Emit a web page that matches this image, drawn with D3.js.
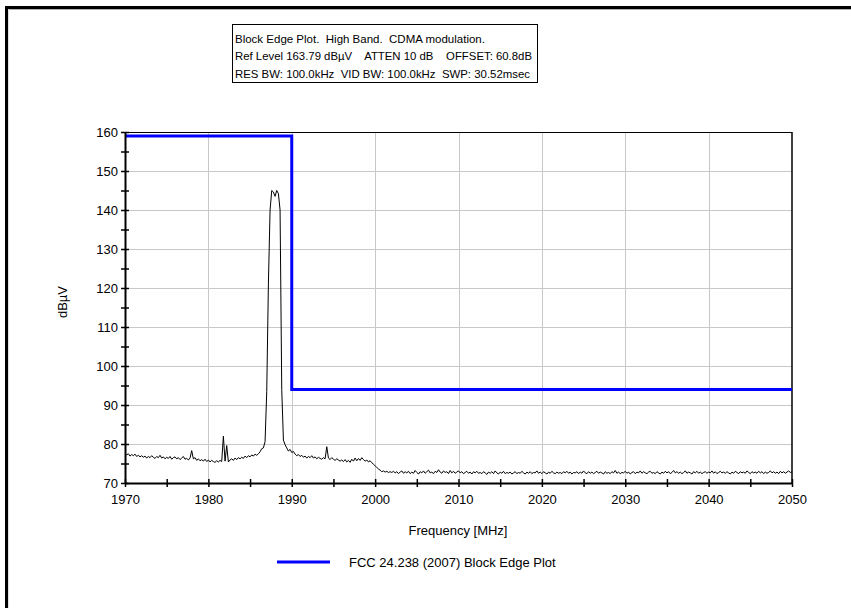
<!DOCTYPE html>
<html>
<head>
<meta charset="utf-8">
<script src="https://cdn.jsdelivr.net/npm/d3@7"></script>
<style>
  html, body { margin: 0; padding: 0; background: #fff; }
  svg { display: block; }
  text { font-family: "Liberation Sans", Arial, sans-serif; fill: #000; }
  .pre { white-space: pre; }
</style>
</head>
<body>
<svg id="chart" width="851" height="608"></svg>
<script>
// ---------- data ----------
const titleLines = [
  "Block Edge Plot.  High Band.  CDMA modulation.",
  "Ref Level 163.79 dB\u00b5V    ATTEN 10 dB    OFFSET: 60.8dB",
  "RES BW: 100.0kHz  VID BW: 100.0kHz  SWP: 30.52msec"
];
const xTicks = [1970, 1980, 1990, 2000, 2010, 2020, 2030, 2040, 2050];
const yTicks = [70, 80, 90, 100, 110, 120, 130, 140, 150, 160];
const xLabel = "Frequency [MHz]";
const yLabel = "dB\u00b5V";
const legendLabel = "FCC 24.238 (2007) Block Edge Plot";

// limit line (FCC block edge mask)
const limitFreq  = [1970, 1990, 1990, 2050];
const limitLevel = [159, 159, 94, 94];

// measured trace: first frequency, step (MHz) and levels (dBuV)
const traceStart = 1970;
const traceStep = 0.2;
const traceLevel = [
  77.6, 77.2, 77.5, 76.9, 77.3, 77.0, 77.4, 76.8, 77.1, 76.7,
  77.0, 76.6, 76.9, 76.4, 76.8, 76.5, 77.0, 76.6, 76.3, 76.8,
  76.5, 77.1, 76.4, 76.7, 76.2, 76.6, 76.3, 76.8, 76.1, 76.5,
  76.7, 76.2, 76.5, 76.0, 76.4, 76.8, 76.1, 76.3, 75.9, 76.4,
  78.3, 76.2, 76.5, 75.8, 76.2, 75.7, 76.0, 75.6, 76.1, 75.5,
  75.9, 75.4, 75.8, 75.5, 75.3, 75.7, 75.4, 75.8, 75.5, 82.0,
  75.6, 79.6, 75.4, 75.9, 76.2, 75.8, 76.4, 76.0, 76.5, 76.2,
  76.6, 76.3, 76.9, 76.5, 77.0, 76.7, 77.2, 76.9, 77.4, 77.1,
  77.5, 78.0, 78.8, 79.0, 80.6, 93.5, 121.0, 140.0, 145.0, 144.6,
  143.5, 145.0, 144.2, 140.0, 94.0, 81.0, 79.8, 79.0, 78.2, 78.6,
  77.8, 78.1, 77.4, 77.0, 77.3, 76.8, 77.1, 76.6, 76.9, 76.4,
  76.8, 76.5, 77.0, 76.4, 76.7, 76.2, 76.6, 76.3, 76.1, 76.5,
  76.2, 79.3, 76.4, 76.0, 76.5, 76.1, 75.8, 76.2, 75.9, 75.6,
  75.9, 75.5, 76.0, 75.4, 75.8, 75.3, 76.1, 75.6, 76.4, 75.7,
  76.3, 75.8, 76.5, 76.0, 75.6, 75.9, 75.4, 75.7, 75.2, 74.8,
  74.4, 74.0, 73.6, 73.3, 72.9, 73.1, 72.8, 73.0, 72.7, 72.9,
  72.7, 73.0, 72.6, 72.9, 72.4, 72.8, 73.1, 72.5, 72.9, 72.6,
  73.0, 72.4, 72.8, 72.5, 73.2, 72.7, 72.3, 72.9, 72.6, 73.1,
  72.5, 72.9, 73.3, 72.6, 72.8, 72.4, 73.0, 72.7, 73.4, 72.8,
  72.5, 73.1, 72.7, 72.9, 72.4, 73.2, 72.6, 73.0, 72.5, 72.8,
  73.1, 72.6, 72.9, 72.4, 72.7, 73.0, 72.5, 72.8, 72.3, 72.9,
  72.6, 73.0, 72.5, 72.7, 72.4, 72.9, 72.6, 72.2, 72.8, 72.5,
  72.9, 72.4, 73.1, 72.6, 72.3, 72.8, 72.5, 73.0, 72.4, 72.7,
  72.5, 72.8, 72.3, 72.6, 72.9, 72.4, 72.7, 72.5, 73.0, 72.6,
  72.3, 72.8, 72.5, 72.9, 72.4, 72.7, 72.6, 73.1, 72.5, 72.8,
  72.4, 72.9, 72.6, 72.3, 72.8, 72.5, 73.0, 72.6, 72.4, 72.8,
  72.5, 72.7, 72.4, 72.9, 72.6, 73.0, 72.5, 72.8, 72.3, 72.7,
  72.6, 72.9, 72.4, 72.8, 72.5, 73.1, 72.6, 72.4, 72.9, 72.5,
  72.8, 72.4, 72.7, 73.0, 72.5, 72.8, 72.6, 72.3, 72.9, 72.5,
  72.7, 72.4, 72.9, 72.6, 73.2, 72.5, 72.8, 72.4, 72.7, 72.6,
  73.0, 72.5, 72.8, 72.3, 72.7, 72.9, 72.4, 72.8, 72.6, 73.1,
  72.5, 72.9, 72.6, 72.4, 72.8, 73.0, 72.5, 72.7, 72.4, 72.9,
  72.6, 72.3, 72.8, 72.5, 73.0, 72.6, 72.9, 72.4, 72.7, 73.2,
  72.6, 72.9, 72.5, 72.8, 72.4, 72.7, 73.1, 72.5, 72.8, 72.6,
  72.3, 72.9, 72.6, 73.0, 72.5, 72.8, 72.4, 72.7, 72.9, 72.5,
  72.8, 72.6, 73.1, 72.5, 72.9, 72.4, 72.7, 73.0, 72.6, 72.8,
  72.5, 72.9, 72.6, 72.3, 72.8, 72.5, 73.0, 72.7, 72.4, 72.9,
  72.6, 72.8, 72.5, 73.1, 72.7, 72.4, 72.9, 72.6, 72.8, 72.5,
  73.0, 72.6, 72.9, 72.4, 72.8, 72.5, 72.7, 73.1, 72.6, 72.9,
  72.5, 72.8, 72.4, 73.0, 72.6, 72.9, 72.5, 72.8, 73.1, 72.7,
  72.9
];

// ---------- drawing ----------
const svg = d3.select("#chart");
svg.append("rect").attr("width", 851).attr("height", 608).attr("fill", "#fff");

// window frame
svg.append("rect").attr("x", 5).attr("y", 6).attr("width", 846).attr("height", 3).attr("fill", "#000");
svg.append("rect").attr("x", 5).attr("y", 6).attr("width", 3).attr("height", 602).attr("fill", "#000");
svg.append("line").attr("x1", 8).attr("x2", 851).attr("y1", 9.5).attr("y2", 9.5).attr("stroke", "#b0b0b0");
svg.append("line").attr("x1", 8.5).attr("x2", 8.5).attr("y1", 9).attr("y2", 608).attr("stroke", "#e0e0e0");

const x = d3.scaleLinear().domain([1970, 2050]).range([125, 792]);
const y = d3.scaleLinear().domain([70, 160]).range([483, 132]);

// title box
const titleWidths = [null, 297, 295];
const tb = svg.append("g");
tb.append("rect").attr("x", 232.5).attr("y", 24.5).attr("width", 305).attr("height", 58)
  .attr("fill", "#fff").attr("stroke", "#000").attr("stroke-width", 1);
tb.selectAll("text").data(titleLines).join("text")
  .attr("class", "pre")
  .attr("xml:space", "preserve")
  .attr("x", 235).attr("y", (d, i) => 42.5 + i * 17.5)
  .attr("font-size", 11.5)
  .each(function (d, i) {
    if (titleWidths[i]) d3.select(this).attr("textLength", titleWidths[i]).attr("lengthAdjust", "spacingAndGlyphs");
  })
  .text(d => d);

// grid
const grid = svg.append("g").attr("stroke", "#c8c8c8").attr("stroke-width", 1);
grid.selectAll("line.v").data(xTicks.slice(1, -1)).join("line").attr("class", "v")
  .attr("x1", d => Math.round(x(d)) + 0.5).attr("x2", d => Math.round(x(d)) + 0.5)
  .attr("y1", y(160)).attr("y2", y(70));
grid.selectAll("line.h").data(yTicks.slice(1, -1)).join("line").attr("class", "h")
  .attr("y1", d => Math.round(y(d)) + 0.5).attr("y2", d => Math.round(y(d)) + 0.5)
  .attr("x1", x(1970)).attr("x2", x(2050));

// plot frame (top and right)
svg.append("line").attr("x1", x(1970)).attr("x2", x(2050)).attr("y1", y(160) + 0.5).attr("y2", y(160) + 0.5)
  .attr("stroke", "#000");
svg.append("line").attr("x1", x(2050)).attr("x2", x(2050)).attr("y1", y(160)).attr("y2", y(70))
  .attr("stroke", "#000").attr("stroke-width", 1.5);

// trace
const traceData = traceLevel.map((v, i) => ({ f: traceStart + i * traceStep, v }));
const line = d3.line().x(d => x(d.f)).y(d => y(d.v));
svg.append("path").datum(traceData).attr("d", line)
  .attr("fill", "none").attr("stroke", "#000").attr("stroke-width", 1);

// limit line
const limitData = limitFreq.map((f, i) => ({ f, v: limitLevel[i] }));
svg.append("path").datum(limitData).attr("d", line)
  .attr("fill", "none").attr("stroke", "#0000ff").attr("stroke-width", 3);

// axes
const yMinor = d3.range(70, 161, 5);
const xMinor = d3.range(1970, 2051, 5);
const yAxis = svg.append("g").attr("transform", `translate(${x(1970)},0)`)
  .call(d3.axisLeft(y).tickValues(yMinor).tickSize(0).tickPadding(7)
    .tickFormat(d => d % 10 === 0 ? d : ""));
yAxis.select(".domain").attr("stroke", "#000").attr("stroke-width", 2);
yAxis.selectAll(".tick line").attr("x1", -4).attr("x2", 4).attr("stroke", "#000").attr("stroke-width", 1.5);
yAxis.selectAll(".tick text").attr("font-size", 13).attr("font-family", "Liberation Sans, Arial, sans-serif").attr("fill", "#000");

const xAxis = svg.append("g").attr("transform", `translate(0,${y(70)})`)
  .call(d3.axisBottom(x).tickValues(xMinor).tickSize(0).tickPadding(12)
    .tickFormat(d => d % 10 === 0 ? d : ""));
xAxis.select(".domain").attr("stroke", "#000").attr("stroke-width", 2);
xAxis.selectAll(".tick line").attr("y1", -4).attr("y2", 4).attr("stroke", "#000").attr("stroke-width", 1.5);
xAxis.selectAll(".tick text").attr("font-size", 13).attr("font-family", "Liberation Sans, Arial, sans-serif").attr("fill", "#000");

// axis titles
svg.append("text").attr("x", 458).attr("y", 535).attr("text-anchor", "middle")
  .attr("font-size", 13).text(xLabel);
svg.append("text").attr("transform", "translate(67,302) rotate(-90)").attr("text-anchor", "middle")
  .attr("font-size", 13).text(yLabel);

// legend
svg.append("line").attr("x1", 277).attr("x2", 330).attr("y1", 562).attr("y2", 562)
  .attr("stroke", "#0000ff").attr("stroke-width", 3);
svg.append("text").attr("x", 349).attr("y", 567).attr("font-size", 13).text(legendLabel);
</script>
</body>
</html>
